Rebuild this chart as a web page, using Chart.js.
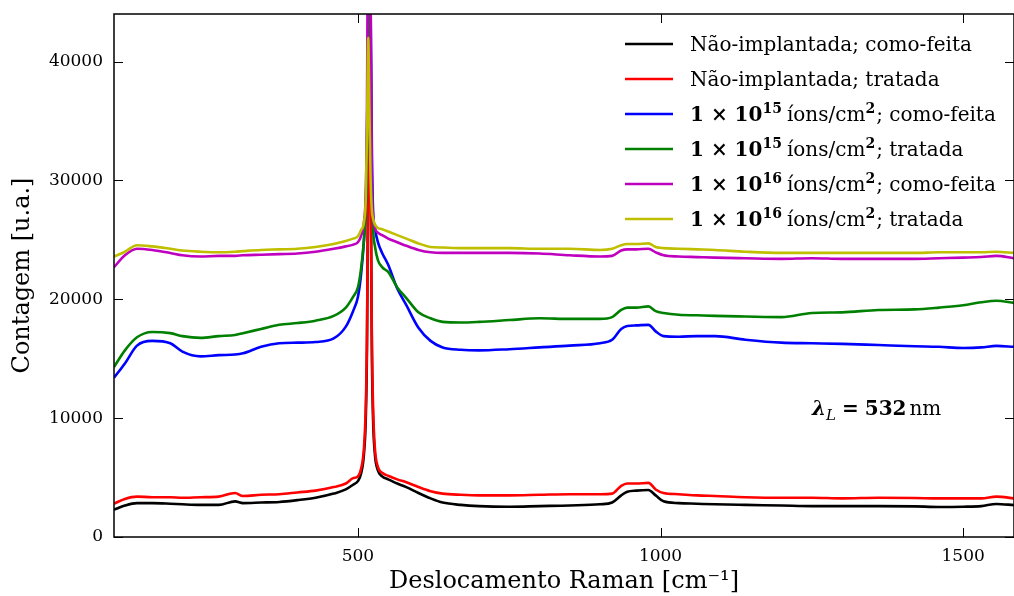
<!DOCTYPE html>
<html>
<head>
<meta charset="utf-8">
<script src="https://cdn.jsdelivr.net/npm/chart.js@4.4.1/dist/chart.umd.min.js"></script>
<style>
  html, body { margin: 0; padding: 0; background: #fff; }
</style>
</head>
<body>
<canvas id="raman" width="1014" height="596"></canvas>
<script>
// deslocamento Raman (cm-1)
const shift = [97, 115, 135, 160, 190, 210, 240, 270, 297, 310, 340, 370, 400, 430, 460, 480, 492, 500, 505, 510,
  513, 515, 517, 519, 521, 523, 525, 528, 533, 540, 550, 565, 580, 600, 620, 640, 670, 700, 750, 800,
  850, 900, 920, 935, 945, 960, 980, 992, 1005, 1030, 1060, 1090, 1140, 1200, 1250, 1300, 1360, 1420, 1460, 1500,
  1530, 1555, 1584];

const naoComoFeita = [2300, 2650, 2850, 2850, 2800, 2750, 2700, 2700, 3000, 2850, 2900, 2950, 3100, 3300, 3650, 4000, 4400, 4700, 5300, 7000,
  10000, 16000, 32000, 48000, 32000, 16000, 10000, 7000, 5600, 5100, 4850, 4500, 4200, 3700, 3250, 2900, 2700, 2600, 2550, 2600,
  2650, 2750, 2900, 3500, 3800, 3900, 3950, 3500, 3000, 2850, 2800, 2750, 2700, 2650, 2600, 2600, 2600, 2580, 2530, 2550,
  2600, 2780, 2680];

const naoTratada = [2800, 3200, 3400, 3350, 3350, 3300, 3350, 3400, 3700, 3450, 3550, 3600, 3750, 3900, 4200, 4500, 4950, 5100, 5700, 7500,
  11000, 17000, 30000, 50000, 30000, 17000, 11000, 7500, 5900, 5400, 5150, 4850, 4600, 4200, 3850, 3650, 3550, 3500, 3500, 3550,
  3600, 3600, 3650, 4300, 4500, 4500, 4550, 4000, 3700, 3600, 3500, 3450, 3350, 3300, 3300, 3250, 3300, 3280, 3250, 3250,
  3250, 3400, 3250];

const d15ComoFeita = [13400, 14600, 16100, 16500, 16300, 15600, 15200, 15300, 15350, 15450, 16000, 16300, 16350, 16400, 16700, 17700, 19000, 20200, 22000, 25000,
  28000, 33000, 45000, 70000, 45000, 33000, 27500, 26000, 24800, 23900, 22900, 20900, 19500, 17600, 16500, 15950, 15750, 15700, 15800, 15950,
  16100, 16300, 16600, 17500, 17750, 17800, 17850, 17300, 16900, 16850, 16900, 16900, 16600, 16350, 16300, 16250, 16150, 16050, 16000, 15900,
  15950, 16080, 16000];

const d15Tratada = [14300, 15700, 16800, 17250, 17150, 16900, 16750, 16900, 17000, 17150, 17500, 17850, 18000, 18200, 18600, 19300, 20200, 21000, 22500, 25000,
  27500, 32000, 42000, 60000, 42000, 30000, 26000, 24500, 23300, 22700, 22300, 21000, 20100, 18900, 18400, 18100, 18050, 18100, 18250, 18400,
  18350, 18350, 18500, 19100, 19300, 19300, 19400, 19000, 18850, 18700, 18650, 18600, 18550, 18500, 18850, 18900, 19100, 19150, 19300, 19500,
  19750, 19870, 19700];

const d16ComoFeita = [22700, 23700, 24250, 24150, 23900, 23700, 23600, 23650, 23650, 23700, 23750, 23800, 23850, 24000, 24250, 24450, 24600, 24800, 25300, 26500,
  29000, 36000, 55000, 70000, 45000, 30000, 27000, 26000, 25600, 25400, 25100, 24800, 24500, 24150, 23950, 23900, 23900, 23900, 23900, 23850,
  23700, 23600, 23650, 24100, 24200, 24200, 24250, 23950, 23700, 23600, 23550, 23500, 23450, 23400, 23450, 23400, 23400, 23400, 23450, 23500,
  23550, 23650, 23450];

const d16Tratada = [23600, 24000, 24550, 24450, 24250, 24100, 24000, 23950, 24000, 24050, 24150, 24200, 24250, 24400, 24650, 24900, 25100, 25300, 25800, 26500,
  28500, 34000, 42000, 36000, 30000, 27500, 26800, 26300, 26000, 25900, 25700, 25400, 25100, 24700, 24400, 24350, 24300, 24300, 24300, 24250,
  24250, 24150, 24250, 24550, 24650, 24650, 24700, 24400, 24300, 24250, 24200, 24150, 24000, 23900, 23900, 23900, 23900, 23900, 23950, 23950,
  23950, 24000, 23900];

const seriesNames = [
  'Não-implantada; como-feita',
  'Não-implantada; tratada',
  '1 × 10¹⁵ íons/cm²; como-feita',
  '1 × 10¹⁵ íons/cm²; tratada',
  '1 × 10¹⁶ íons/cm²; como-feita',
  '1 × 10¹⁶ íons/cm²; tratada'
];
const seriesValues = [naoComoFeita, naoTratada, d15ComoFeita, d15Tratada, d16ComoFeita, d16Tratada];
const seriesColors = ['#000000', '#ff0000', '#0000ff', '#008000', '#bf00bf', '#bfbf00'];

const xTicks = [500, 1000, 1500];
const yTicks = [0, 10000, 20000, 30000, 40000];

const SERIF = 'DejaVu Serif';
Chart.defaults.font.family = SERIF;
Chart.defaults.color = '#000';

const supMap = { '¹': '1', '²': '2', '⁵': '5', '⁶': '6' };

// quebra o rótulo em pedaços (negrito / expoente)
function richRuns(label) {
  const m = label.match(/^1 × 10([¹⁵⁶]+) íons\/cm²(.*)$/);
  if (!m) return [{ t: label }];
  const exp = m[1].split('').map(c => supMap[c]).join('');
  return [
    { t: '1 × 10', b: true },
    { t: exp, b: true, sup: true },
    { t: '\u2009íons/cm' },
    { t: '2', b: true, sup: true },
    { t: m[2] }
  ];
}

function drawRuns(ctx, runs, x, y, size) {
  runs.forEach(r => {
    const fs = r.sup ? Math.round(size * 0.7) : (r.sub ? Math.round(size * 0.75) : size);
    ctx.font = (r.i ? 'italic ' : '') + (r.b ? 'bold ' : '') + fs + 'px "' + SERIF + '"';
    const dy = r.sup ? -size * 0.42 : (r.sub ? size * 0.25 : 0);
    ctx.fillText(r.t, x, y + dy);
    x += ctx.measureText(r.t).width + (r.sup ? 1 : 0) + (r.gap || 0);
  });
}

const decor = {
  id: 'decor',
  afterDatasetsDraw(chart) {
    const { ctx, chartArea: a, scales: { x, y } } = chart;
    ctx.save();
    ctx.strokeStyle = '#000';
    ctx.lineWidth = 1.5;
    ctx.strokeRect(a.left, a.top, a.right - a.left, a.bottom - a.top);

    ctx.lineWidth = 1;
    ctx.beginPath();
    xTicks.forEach(v => {
      const px = Math.round(x.getPixelForValue(v)) + 0.5;
      ctx.moveTo(px, a.bottom); ctx.lineTo(px, a.bottom - 9);
      ctx.moveTo(px, a.top); ctx.lineTo(px, a.top + 9);
    });
    yTicks.forEach(v => {
      const py = Math.round(y.getPixelForValue(v)) + 0.5;
      ctx.moveTo(a.left, py); ctx.lineTo(a.left + 9, py);
      ctx.moveTo(a.right, py); ctx.lineTo(a.right - 9, py);
    });
    ctx.stroke();

    // legenda
    ctx.textBaseline = 'alphabetic';
    ctx.fillStyle = '#000';
    seriesNames.forEach((name, i) => {
      const ly = 44 + i * 35;
      ctx.strokeStyle = seriesColors[i];
      ctx.lineWidth = 2.5;
      ctx.beginPath();
      ctx.moveTo(625, ly); ctx.lineTo(673, ly);
      ctx.stroke();
      drawRuns(ctx, richRuns(name), 690, ly + 7, 20);
    });

    // comprimento de onda do laser
    drawRuns(ctx, [
      { t: 'λ', b: true, i: true },
      { t: 'L', i: true, sub: true, gap: 6 },
      { t: '=', b: true, gap: 6 },
      { t: '532', b: true, gap: 3 },
      { t: 'nm' }
    ], 812, 415, 20);
    ctx.restore();
  }
};

const datasets = seriesValues.map((vals, i) => ({
  label: seriesNames[i],
  data: shift.map((s, j) => ({ x: s, y: vals[j] })),
  borderColor: seriesColors[i],
  backgroundColor: seriesColors[i],
  borderWidth: 2.6,
  pointRadius: 0,
  cubicInterpolationMode: 'monotone',
  order: seriesNames.length - i
}));

new Chart(document.getElementById('raman'), {
  type: 'line',
  data: { datasets },
  options: {
    responsive: false,
    animation: false,
    layout: { padding: { top: 14, right: 0, left: 0, bottom: 0 } },
    plugins: { legend: { display: false }, tooltip: { enabled: false } },
    scales: {
      x: {
        type: 'linear',
        min: 97,
        max: 1584,
        afterBuildTicks: s => { s.ticks = xTicks.map(v => ({ value: v })); },
        afterFit: s => { s.height = 59; s.paddingLeft = 0; s.paddingRight = 0; },
        grid: { display: false },
        border: { display: false },
        ticks: { padding: 1, font: { size: 17 }, callback: v => String(v) },
        title: { display: true, text: 'Deslocamento Raman [cm⁻¹]', font: { size: 24 }, padding: 0 }
      },
      y: {
        min: 0,
        max: 44000,
        afterBuildTicks: s => { s.ticks = yTicks.map(v => ({ value: v })); },
        afterFit: s => { s.width = 114; s.paddingTop = 0; s.paddingBottom = 0; },
        grid: { display: false },
        border: { display: false },
        ticks: { padding: 3, font: { size: 17 }, callback: v => String(v) },
        title: { display: true, text: 'Contagem [u.a.]', font: { size: 24 }, padding: { top: 8, bottom: 0 } }
      }
    }
  },
  plugins: [decor]
});
</script>
</body>
</html>
